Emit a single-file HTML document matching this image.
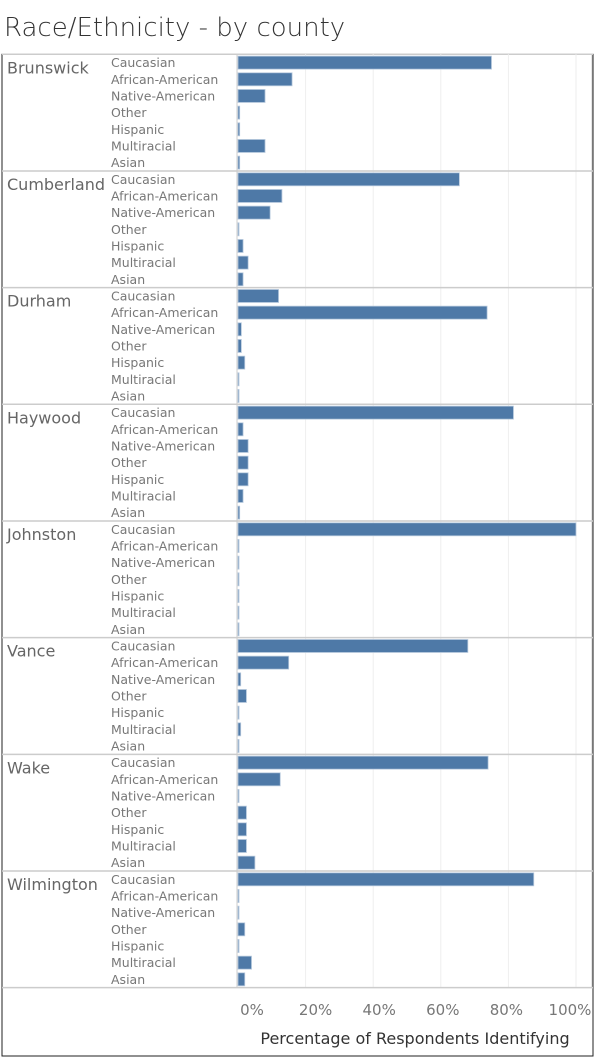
<!DOCTYPE html>
<html><head><meta charset="utf-8"><style>
body{margin:0;background:#fff;width:597px;height:1059px;overflow:hidden;font-family:"DejaVu Sans","Liberation Sans",sans-serif;}
</style></head><body>
<svg id="chart" width="597" height="1059" xmlns="http://www.w3.org/2000/svg">
<text x="4" y="36" font-size="26" fill="#333" font-family="DejaVu Sans, sans-serif" font-weight="200">Race/Ethnicity - by county</text>
<g id="plot"></g>
</svg>
<script>
const counties = ["Brunswick","Cumberland","Durham","Haywood","Johnston","Vance","Wake","Wilmington"];
const races = ["Caucasian","African-American","Native-American","Other","Hispanic","Multiracial","Asian"];
const brunswick = [75,16,8,0.5,0.5,8,0.5];
const cumberland = [65.5,13,9.5,0.3,1.5,3,1.5];
const durham = [12,73.7,1,1,2,0.3,0.3];
const haywood = [81.5,1.5,3,3,3,1.5,0.5];
const johnston = [100,0.3,0.3,0.3,0.3,0.3,0.3];
const vance = [68,15,0.8,2.5,0.3,0.8,0.3];
const wake = [74,12.5,0.3,2.5,2.5,2.5,5];
const wilmington = [87.5,0.3,0.3,2,0.3,4,2];
const ticks = [0,20,40,60,80,100];
const tickLabels = ["0%","20%","40%","60%","80%","100%"];
const series = [brunswick,cumberland,durham,haywood,johnston,vance,wake,wilmington];

const NS="http://www.w3.org/2000/svg";
const g=document.getElementById('plot');
const x0=238,x1=576,top0=54.3,rowH=116.67/7,groupH=116.67;
const xs=v=>x0+(v/100)*(x1-x0);
function mk(t,a){const e=document.createElementNS(NS,t);for(const k in a)e.setAttribute(k,a[k]);g.appendChild(e);return e;}
const bottom=top0+groupH*counties.length;
let f=mk('rect',{x:2,y:top0,width:591,height:1056-top0,fill:'none',stroke:'#222','stroke-width':1});


mk('line',{x1:2,y1:top0,x2:593,y2:top0,stroke:'#ccc','stroke-width':1.5});
ticks.forEach((t,i)=>{
  if(i>0){const l=mk('line',{x1:xs(t),y1:top0,x2:xs(t),y2:bottom,stroke:'#eee','stroke-width':1});
  
  }
  const tx=mk('text',{x:xs(t)+14-0.2*t,y:1015,'font-size':15,fill:'#777','text-anchor':'middle'});
  tx.textContent=tickLabels[i];
  
  
});
mk('line',{x1:237,y1:top0,x2:237,y2:bottom,stroke:'#ccc','stroke-width':1});
mk('line',{x1:592,y1:top0,x2:592,y2:bottom,stroke:'#ccc','stroke-width':1});
counties.forEach((c,ci)=>{
  const gy=top0+ci*groupH;
  if(ci>0){const s=mk('line',{x1:2,y1:gy,x2:593,y2:gy,stroke:'#ccc','stroke-width':1.5});
  
  }
  const ct=mk('text',{x:7,y:gy+19,'font-size':16,fill:'#666'});
  ct.textContent=c;
  
  
  races.forEach((r,ri)=>{
    const cy=gy+rowH*(ri+0.5);
    const rt=mk('text',{x:111,y:cy+4.5,'font-size':12.5,fill:'#777'});
    rt.textContent=r;
    
    
    const v=series[ci][ri];
    const b=mk('rect',{x:x0,y:cy-6.5,width:Math.max(1,xs(v)-x0),height:13,fill:'#4e79a7',stroke:'#b7c9dd','stroke-width':0.8});
    
    
  });
});
mk('line',{x1:2,y1:bottom,x2:593,y2:bottom,stroke:'#ccc','stroke-width':1.5});
const at=mk('text',{x:415,y:1044,'font-size':16,fill:'#333','text-anchor':'middle'});
at.textContent='Percentage of Respondents Identifying';


</script>
</body></html>
